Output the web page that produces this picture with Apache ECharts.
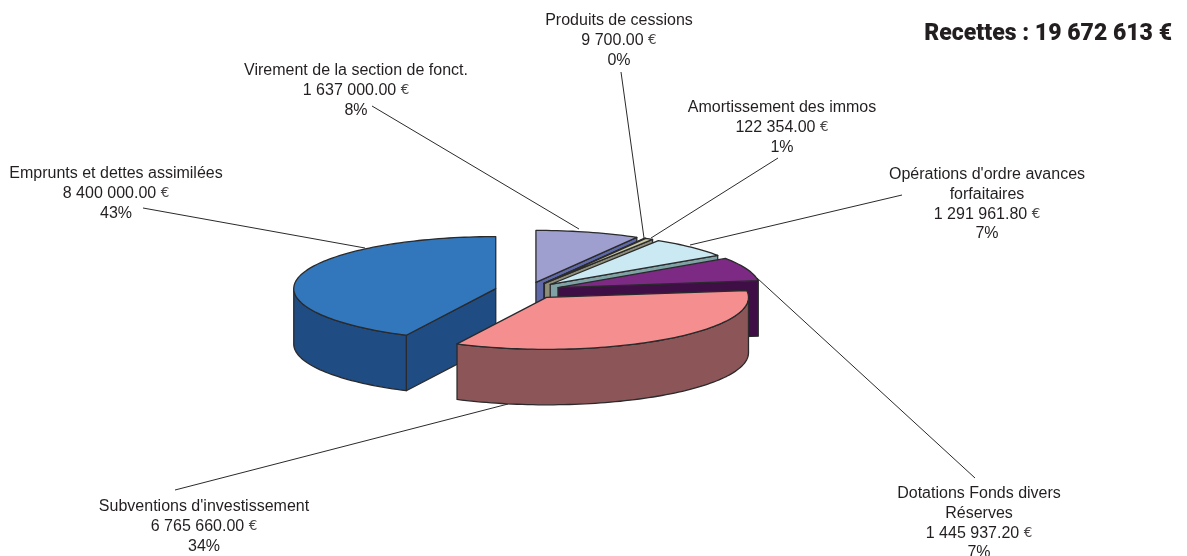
<!DOCTYPE html>
<html>
<head>
<meta charset="utf-8">
<style>html,body{margin:0;padding:0;background:#fff}#c{width:1187px;height:556px}</style>
<script src="https://cdn.jsdelivr.net/npm/echarts@6/dist/echarts.min.js"></script>
</head>
<body>
<div id="c"></div>
<script>
// Data: clockwise from 12 o'clock
const categories = ["Virement de la section de fonct.", "Produits de cessions", "Amortissement des immos",
  "Opérations d'ordre avances\nforfaitaires", "Dotations Fonds divers\nRéserves",
  "Subventions d'investissement", "Emprunts et dettes assimilées"];
const values = [1637000, 9700, 122354, 1291961.80, 1445937.20, 6765660, 8400000];
const title = "Recettes : 19 672 613 €";

// Styles
const topColors  = ["#9e9fce", "#ece6b4", "#c9c7a4", "#cbe9f2", "#7c2a84", "#f58f8f", "#3277bb"];
const wallColors = ["#5f69a8", "#b0ac8a", "#8f8e78", "#7fa2a4", "#3f0e46", "#8c5557", "#1f4c82"];

// Layout of the projected pie
const CX = 527.5, CY = 290.5, RX = 202, RY = 52, DEPTH = 55.5, EXPLODE = 32.6;
const labelCenterX = [356, 619, 782, 987, 979, 204, 116];
const labelTopY    = [61, 11, 98, 165, 484, 497, 164];
const leaderFrom = [[372,106],[621,72],[778,158],[902,195],[975,478],[175,490],[143,208]];
const leaderTo   = [[579,229],[644,238],[651,238],[690,245],[757,278],[508,404],[365,248]];

const total = values.reduce((a, b) => a + b, 0);
const cum = [0];
values.forEach(v => cum.push(cum[cum.length - 1] + v));
const rad = d => d * Math.PI / 180;
const INK = '#2a2a2c';

function sliceGeom(i) {
  const a0 = cum[i] / total * 360, a1 = cum[i + 1] / total * 360, mid = rad((a0 + a1) / 2);
  const ax = CX + EXPLODE * Math.sin(mid), ay = CY - EXPLODE * (RY / RX) * Math.cos(mid);
  const pt = a => [ax + RX * Math.sin(rad(a)), ay - RY * Math.cos(rad(a))];
  return { a0, a1, ax, ay, pt };
}
function arc(g, a, b) {
  const pts = [], n = Math.max(1, Math.ceil((b - a) / 1.5));
  for (let k = 0; k <= n; k++) pts.push(g.pt(a + (b - a) * k / n));
  return pts;
}
const down = p => [p[0], p[1] + DEPTH];
function poly(points, fill, z2, w) {
  return { type: 'polygon', z2, shape: { points }, style: { fill, stroke: INK, lineWidth: w || 1.3, lineJoin: 'round' } };
}
// Painter's order: slices whose apex lies further back are drawn first
const order = values.map((_, i) => i).sort((p, q) => sliceGeom(p).ay - sliceGeom(q).ay);

function renderSlice(params) {
  const i = params.dataIndex, g = sliceGeom(i), rank = order.indexOf(i) * 10, kids = [];
  const apex = [g.ax, g.ay];
  // Radial walls that face the viewer
  if (Math.sin(rad(g.a1)) > 0.001) {
    const e = g.pt(g.a1);
    kids.push(poly([apex, e, down(e), down(apex)], wallColors[i], rank + 1));
  }
  if (Math.sin(rad(g.a0)) < -0.001) {
    const e = g.pt(g.a0);
    kids.push(poly([apex, e, down(e), down(apex)], wallColors[i], rank + 1));
  }
  // Outer rim on the front half
  const f0 = Math.max(g.a0, 90), f1 = Math.min(g.a1, 270);
  if (f1 > f0) {
    const t = arc(g, f0, f1);
    kids.push(poly(t.concat(t.slice().reverse().map(down)), wallColors[i], rank + 2));
  }
  kids.push(poly([apex].concat(arc(g, g.a0, g.a1)), topColors[i], rank + 3));
  return { type: 'group', children: kids };
}

function fmtValue(v) {
  const [a, b] = v.toFixed(2).split('.');
  return a.replace(/\B(?=(\d{3})+$)/g, ' ') + '.' + b;
}
function renderLabel(params) {
  const i = params.dataIndex;
  const name = categories[i].split('\n').map(s => '{t|' + s + '}').join('\n');
  const text = name + '\n{t|' + fmtValue(values[i]) + ' }{e|€}\n{t|' + Math.round(values[i] / total * 100) + '%}';
  return {
    type: 'group', children: [
      { type: 'line', z2: 100, shape: { x1: leaderFrom[i][0], y1: leaderFrom[i][1], x2: leaderTo[i][0], y2: leaderTo[i][1] },
        style: { stroke: '#2a2a2c', lineWidth: 1 } },
      { type: 'text', z2: 101, x: labelCenterX[i], y: labelTopY[i],
        style: { text, align: 'center', verticalAlign: 'top',
          rich: {
            t: { fontFamily: '"Liberation Sans", Arial, sans-serif', fontSize: 16, lineHeight: 19.7, fill: '#231f20' },
            e: { fontFamily: '"DejaVu Sans", sans-serif', fontSize: 13.5, lineHeight: 19.7, fill: '#4a4648' }
          } } }
    ]
  };
}

const chart = echarts.init(document.getElementById('c'), null, { renderer: 'canvas' });
chart.setOption({
  animation: false,
  backgroundColor: '#fff',
  title: { text: title, right: 10, top: 18,
    textStyle: { fontFamily: 'Roboto, sans-serif', fontWeight: 900, fontSize: 23, color: '#231f20' } },
  tooltip: { show: false },
  series: [
    { type: 'custom', coordinateSystem: 'none', silent: true, z: 1, data: values, renderItem: renderSlice },
    { type: 'custom', coordinateSystem: 'none', silent: true, z: 0, data: values, renderItem: renderLabel }
  ]
});
</script>
</body>
</html>
